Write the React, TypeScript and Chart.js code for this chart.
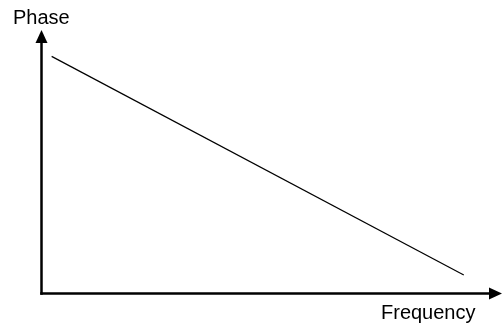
import React, { useEffect, useRef } from "react";
import { Chart, registerables } from "chart.js";

Chart.register(...registerables);

// Data (x: frequency, y: phase) in arbitrary units
const frequency = [2.2, 91.7];
const phase = [90, 7];
const xAxisLabel = "Frequency";
const yAxisLabel = "Phase";

const axesPlugin = {
  id: "arrowAxes",
  afterDraw(chart: any) {
    const { ctx, chartArea } = chart;
    const x0 = chartArea.left;
    const y0 = chartArea.bottom;
    const top = chartArea.top;
    const right = chartArea.right;
    ctx.save();
    ctx.strokeStyle = "#000";
    ctx.fillStyle = "#000";
    ctx.lineWidth = 2.5;
    ctx.lineCap = "butt";
    // y axis
    ctx.beginPath();
    ctx.moveTo(x0, y0 + 1.25);
    ctx.lineTo(x0, top + 10);
    ctx.stroke();
    // x axis
    ctx.beginPath();
    ctx.moveTo(x0 - 1.25, y0);
    ctx.lineTo(right - 10, y0);
    ctx.stroke();
    // up arrow
    ctx.beginPath();
    ctx.moveTo(x0, top);
    ctx.lineTo(x0 - 6, top + 13);
    ctx.lineTo(x0 + 6, top + 13);
    ctx.closePath();
    ctx.fill();
    // right arrow
    ctx.beginPath();
    ctx.moveTo(right, y0);
    ctx.lineTo(right - 13, y0 - 6);
    ctx.lineTo(right - 13, y0 + 6);
    ctx.closePath();
    ctx.fill();
    // labels
    ctx.font = "20px 'Liberation Sans', Arial, sans-serif";
    ctx.textAlign = "left";
    ctx.textBaseline = "alphabetic";
    ctx.fillText(yAxisLabel, 13, 24);
    ctx.fillText(xAxisLabel, 381, 319);
    ctx.restore();
  },
};

export default function App() {
  const ref = useRef<HTMLCanvasElement>(null);
  useEffect(() => {
    if (!ref.current) return;
    const chart = new Chart(ref.current, {
      type: "line",
      data: {
        datasets: [
          {
            data: frequency.map((f, i) => ({ x: f, y: phase[i] })),
            borderColor: "#000",
            borderWidth: 1.2,
            pointRadius: 0,
            fill: false,
            tension: 0,
          },
        ],
      },
      options: {
        animation: false,
        responsive: false,
        maintainAspectRatio: false,
        layout: { padding: { left: 41.5, top: 30, right: 0, bottom: 32.5 } },
        plugins: { legend: { display: false }, tooltip: { enabled: false } },
        scales: {
          x: { type: "linear", min: 0, max: 100, display: false },
          y: { type: "linear", min: 0, max: 100, display: false },
        },
      },
      plugins: [axesPlugin],
    });
    return () => chart.destroy();
  }, []);
  return (
    <div style={{ position: "fixed", left: 0, top: 0, width: 502, height: 326, background: "#fff" }}>
      <canvas ref={ref} width={502} height={326} style={{ display: "block" }} />
    </div>
  );
}
